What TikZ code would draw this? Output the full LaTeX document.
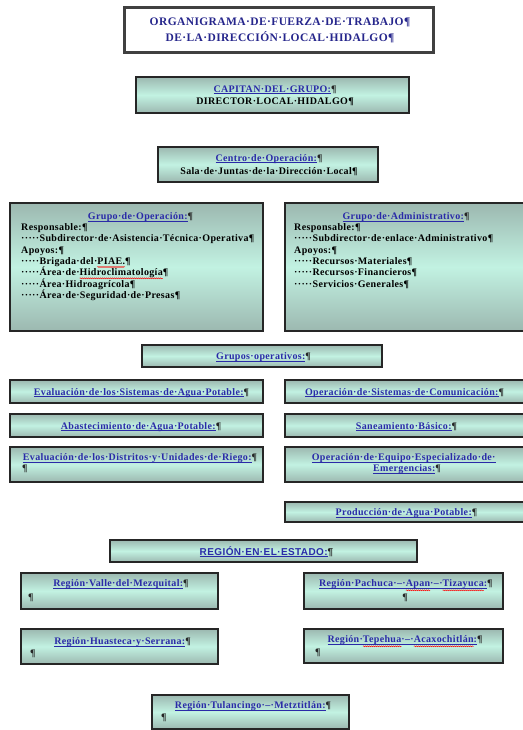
\documentclass[tikz,border=0pt]{standalone}
\usepackage{fontspec}
\setmainfont{Liberation Serif}[LetterSpace=3.5]
\newfontfamily\sansf{Liberation Sans}[LetterSpace=4]
\usetikzlibrary{decorations.pathmorphing}
\definecolor{hblue}{HTML}{2A2AA8}
\definecolor{tblue}{HTML}{26268C}
\definecolor{bmid}{HTML}{C2F2E2}
\definecolor{bedge}{HTML}{9CB8B0}
\newsavebox\hulbox
\newsavebox\wvbox
\newlength\wvlen
\newcommand\hul[1]{\sbox\hulbox{#1}\rlap{\rule[-1.6pt]{\wd\hulbox}{0.6pt}}\usebox\hulbox}
\newcommand\wv[2][2.6pt]{\sbox\wvbox{#2}\setlength\wvlen{\wd\wvbox}\rlap{\tikz[baseline=0pt]{\path (0pt,0pt); \draw[overlay,red,line width=0.45pt,decorate,decoration={snake,amplitude=0.5pt,segment length=2pt}] (0pt,-#1)--(\wvlen,-#1);}}\usebox\wvbox}
\newcommand\pil{{\color{black!85}¶}}
\newcommand\hd[1]{\textcolor{hblue}{\hul{#1}}\pil}
\begin{document}
\begin{tikzpicture}[x=1pt,y=-1pt,
  box/.style={draw=black!85,line width=1.3pt,top color=bedge,bottom color=bedge,middle color=bmid,inner sep=0pt},
  ttl/.style={draw=black!75,line width=3pt,fill=white,inner sep=0pt},
  tx/.style={inner sep=0pt,anchor=base,font=\fontsize{10}{12}\selectfont\bfseries},
  txl/.style={tx,anchor=base west},
]
\useasboundingbox[fill=white] (0,0) rectangle (522,730);
% title
\node[ttl,minimum width=309,minimum height=45] (title) at (278.5,30.5) {};
\node[tx,font=\fontsize{11.5}{13}\selectfont\bfseries,text=tblue] (title1) at (280,25.5) {ORGANIGRAMA·DE·FUERZA·DE·TRABAJO¶};
\node[tx,font=\fontsize{11.5}{13}\selectfont\bfseries,text=tblue] (title2) at (280,41.5) {DE·LA·DIRECCIÓN·LOCAL·HIDALGO¶};
% capitan
\node[box,minimum width=273,minimum height=36] (cap) at (272.5,95) {};
\node[tx] (cap1) at (275,92.5) {\hd{CAPITAN·DEL·GRUPO:}};
\node[tx] (cap2) at (275,104.5) {DIRECTOR·LOCAL·HIDALGO¶};
% centro
\node[box,minimum width=220,minimum height=35] (cen) at (268,164.5) {};
\node[tx] (cen1) at (269,161) {\hd{Centro·de·Operación:}};
\node[tx] (cen2) at (269,174.5) {Sala·de·Juntas·de·la·Dirección·Local¶};
% grupo operacion
\node[box,minimum width=253,minimum height=128] (gop) at (136.5,267) {};
\node[tx] (gop0) at (140.5,219.5) {\hd{Grupo·de·Operación:}};
\node[txl] (gop1) at (21,230.5) {Responsable:¶};
\node[txl] (gop2) at (21,241.8) {·····Subdirector·de·Asistencia·Técnica·Operativa¶};
\node[txl] (gop3) at (21,253.1) {Apoyos:¶};
\node[txl] (gop4) at (21,264.4) {·····Brigada·del·\wv{PIAE.}¶};
\node[txl] (gop5) at (21,275.7) {·····Área·de·\wv{Hidroclimatología}¶};
\node[txl] (gop6) at (21,287) {·····Área·Hidroagrícola¶};
\node[txl] (gop7) at (21,298.3) {·····Área·de·Seguridad·de·Presas¶};
% grupo administrativo
\node[box,minimum width=239,minimum height=128] (gad) at (404.5,267) {};
\node[tx] (gad0) at (406,219.5) {\hd{Grupo·de·Administrativo:}};
\node[txl] (gad1) at (294,230.5) {Responsable:¶};
\node[txl] (gad2) at (294,241.8) {·····Subdirector·de·enlace·Administrativo¶};
\node[txl] (gad3) at (294,253.1) {Apoyos:¶};
\node[txl] (gad4) at (294,264.4) {·····Recursos·Materiales¶};
\node[txl] (gad5) at (294,275.7) {·····Recursos·Financieros¶};
\node[txl] (gad6) at (294,287) {·····Servicios·Generales¶};
% grupos operativos
\node[box,minimum width=240,minimum height=22] (gro) at (262,356) {};
\node[tx] (gro1) at (263.5,359.5) {\hd{Grupos·operativos:}};
\node[box,minimum width=253,minimum height=23] (l1) at (136.5,391.5) {};
\node[tx] (l1t) at (141.5,395) {\hd{Evaluación·de·los·Sistemas·de·Agua·Potable:}};
\node[box,minimum width=239,minimum height=23] (r1) at (404.5,391.5) {};
\node[tx] (r1t) at (404.5,395) {\hd{Operación·de·Sistemas·de·Comunicación:}};
\node[box,minimum width=253,minimum height=23] (l2) at (136.5,425.5) {};
\node[tx] (l2t) at (141,429) {\hd{Abastecimiento·de·Agua·Potable:}};
\node[box,minimum width=239,minimum height=23] (r2) at (404.5,425.5) {};
\node[tx] (r2t) at (406.5,429) {\hd{Saneamiento·Básico:}};
\node[box,minimum width=253,minimum height=35] (l3) at (136.5,464.5) {};
\node[tx] (l3t) at (140,460.5) {\hd{Evaluación·de·los·Distritos·y·Unidades·de·Riego:}};
\node[txl] (l3p) at (22,471.5) {\pil};
\node[box,minimum width=239,minimum height=35] (r3) at (404.5,464.5) {};
\node[tx] (r3t) at (403.7,460.5) {\textcolor{hblue}{\hul{Operación·de·Equipo·Especializado·de·}}};
\node[tx] (r3u) at (407,471.5) {\hd{Emergencias:}};
\node[box,minimum width=239,minimum height=20] (r4) at (404.5,512) {};
\node[tx] (r4t) at (406.5,515.5) {\hd{Producción·de·Agua·Potable:}};
% regiones
\node[box,minimum width=307,minimum height=22] (reg) at (263.5,551) {};
\node[tx,font=\fontsize{10}{12}\selectfont\sansf\bfseries] (regt) at (266.5,555) {\hd{REGIÓN·EN·EL·ESTADO:}};
\node[box,minimum width=197,minimum height=36] (val) at (119.5,591) {};
\node[tx] (valt) at (121,586.5) {\hd{Región·Valle·del·Mezquital:}};
\node[txl] (valp) at (28,600.5) {\pil};
\node[box,minimum width=199,minimum height=36] (pac) at (403.5,591) {};
\node[tx] (pact) at (405.8,586.5) {\hd{Región·Pachuca·–·\wv[3.8pt]{Apan}·–·\wv[3.8pt]{Tizayuca}:}};
\node[tx] (pacp) at (405,600.5) {\pil};
\node[box,minimum width=197,minimum height=35] (hua) at (119.5,646.5) {};
\node[tx] (huat) at (122.5,644.5) {\hd{Región·Huasteca·y·Serrana:}};
\node[txl] (huap) at (30,656) {\pil};
\node[box,minimum width=199,minimum height=34] (tep) at (403.5,646) {};
\node[tx] (tept) at (405,642.5) {\hd{Región·\wv[3.8pt]{Tepehua}·–·\wv[3.8pt]{Acaxochitlán}:}};
\node[txl] (tepp) at (315,655) {\pil};
\node[box,minimum width=197,minimum height=34] (tul) at (250.5,712) {};
\node[tx] (tult) at (253,708.5) {\hd{Región·Tulancingo·–·Metztitlán:}};
\node[txl] (tulp) at (161,720.5) {\pil};
\end{tikzpicture}
\end{document}
